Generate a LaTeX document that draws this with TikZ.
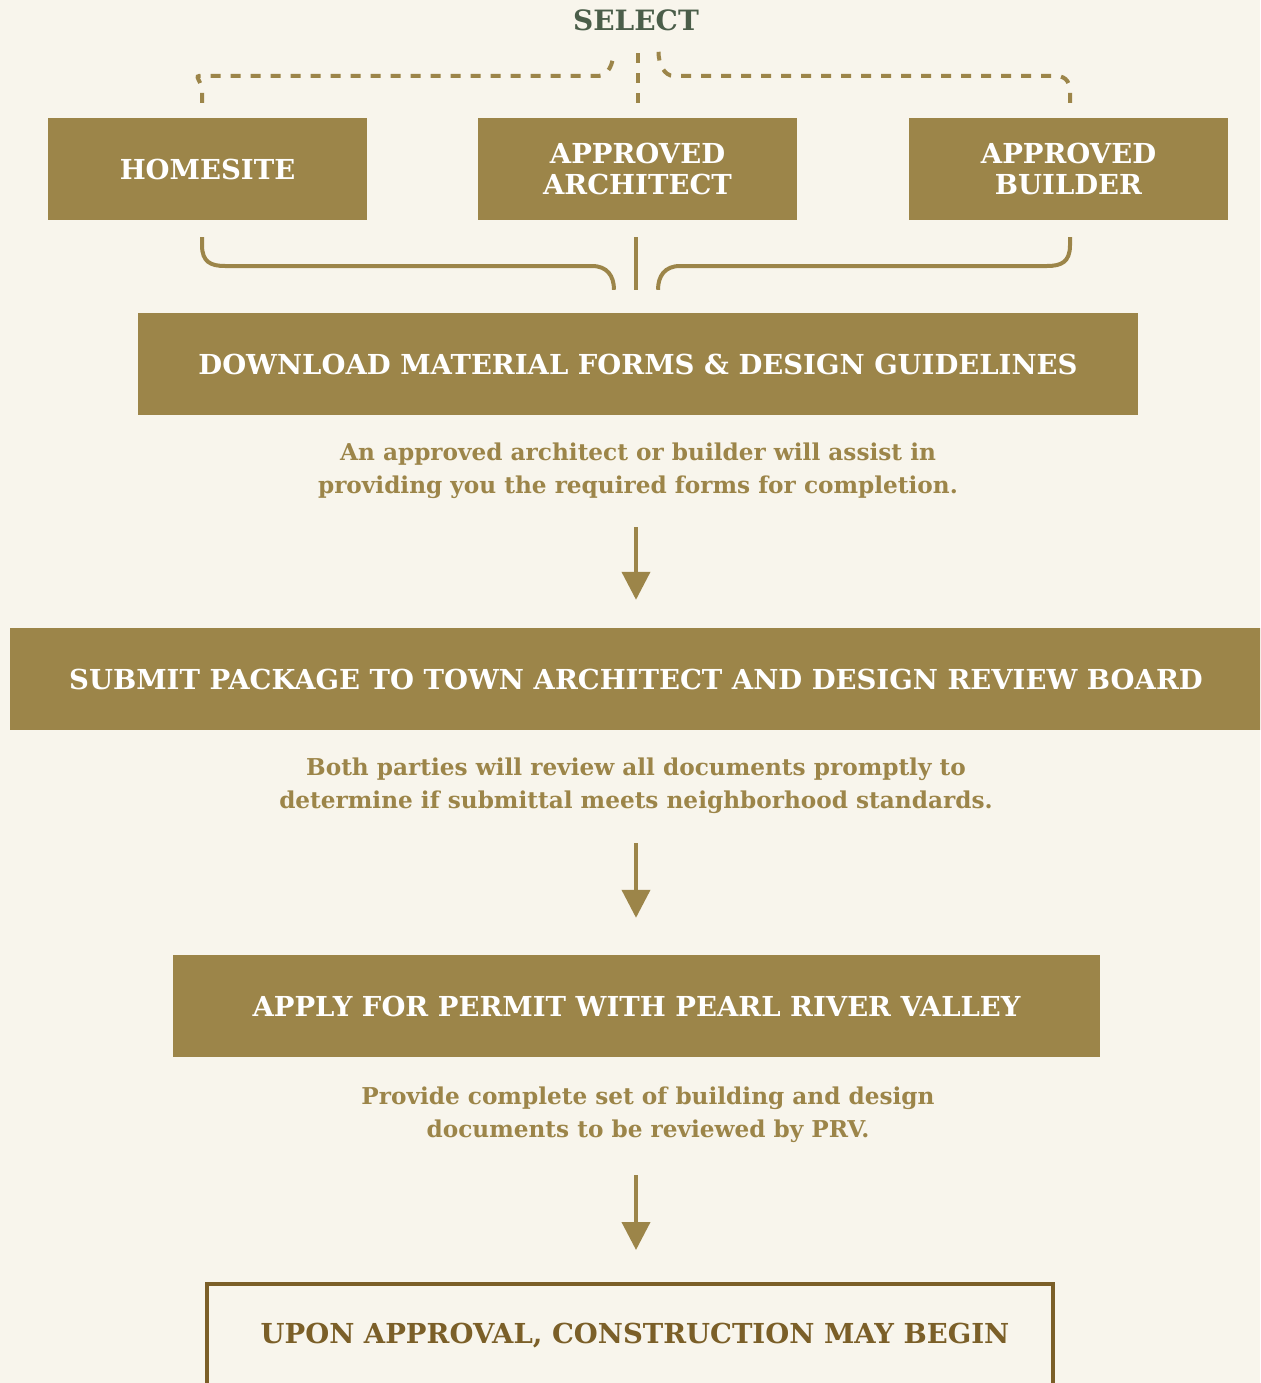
\documentclass[tikz,border=0pt]{standalone}
\usepackage{fontspec}
\setmainfont{DejaVu Serif}
\usetikzlibrary{arrows.meta}
\definecolor{cream}{HTML}{F8F5EC}
\definecolor{gold}{HTML}{9C8549}
\definecolor{sage}{HTML}{4B5E4A}
\definecolor{umber}{HTML}{7B5F28}
\begin{document}
\begin{tikzpicture}[x=1pt,y=-1pt,
	stepbox/.style={fill=gold,text=white,inner sep=0pt,minimum height=102pt,
		align=center,font=\bfseries\fontsize{27.5}{31}\selectfont},
	note/.style={text=gold,align=center,font=\bfseries\fontsize{23.2}{33}\selectfont},
	flow/.style={gold,line width=4pt,-{Triangle[width=28pt,length=28pt]}},
	bracket/.style={gold,line width=4pt},
	pick/.style={gold,line width=4pt,dash pattern=on 10pt off 10pt}]
\clip (0,0) rectangle (1260,1383);
\fill[cream] (0,0) rectangle (1260,1383);
\node[text=sage,font=\bfseries\fontsize{28}{30}\selectfont] (select) at (636,20) {SELECT};
\node[stepbox,minimum width=319pt] (homesite) at (207.5,169) {HOMESITE};
\node[stepbox,minimum width=319pt] (architect) at (637.5,169) {APPROVED\\ARCHITECT};
\node[stepbox,minimum width=319pt] (builder) at (1068.5,169) {APPROVED\\BUILDER};
\node[stepbox,minimum width=1000pt] (download) at (638,364) {DOWNLOAD MATERIAL FORMS \& DESIGN GUIDELINES};
\node[note] (note1) at (638,471) {An approved architect or builder will assist in\\providing you the required forms for completion.};
\node[stepbox,minimum width=1260pt] (submit) at (640,679) {\hspace*{-8pt}SUBMIT PACKAGE TO TOWN ARCHITECT AND DESIGN REVIEW BOARD};
\node[note] (note2) at (636,786) {Both parties will review all documents promptly to\\determine if submittal meets neighborhood standards.};
\node[stepbox,minimum width=927pt] (permit) at (636.5,1006) {APPLY FOR PERMIT WITH PEARL RIVER VALLEY};
\node[note] (note3) at (648,1115) {Provide complete set of building and design\\documents to be reviewed by PRV.};
\node[draw=umber,line width=4pt,text=umber,minimum width=846pt,minimum height=104pt,inner sep=0pt,
	font=\bfseries\fontsize{27.5}{30}\selectfont] (approval) at (630,1336) {\hspace*{10pt}UPON APPROVAL, CONSTRUCTION MAY BEGIN};
\draw[pick] ([xshift=-5.5pt,yshift=15pt]homesite.north) -- ++(0,-10)
	.. controls ++(0,-14) and ++(-10,0) .. ([xshift=-5.5pt,yshift=42pt]homesite.north) -- (598,76)
	.. controls ++(10,0) and ++(0,12) .. ([xshift=-24pt,yshift=66pt]architect.north);
\draw[pick] ([yshift=15pt]architect.north) -- ([yshift=66pt]architect.north);
\draw[pick] ([xshift=1.5pt,yshift=15pt]builder.north) -- ++(0,-10)
	.. controls ++(0,-14) and ++(10,0) .. ([xshift=-15pt,yshift=42pt]builder.north) -- (674,76)
	.. controls ++(-10,0) and ++(0,12) .. ([xshift=21pt,yshift=66pt]architect.north);
\draw[bracket] ([xshift=-5.5pt,yshift=-17pt]homesite.south) -- ++(0,8)
	.. controls ++(0,17) and ++(-14,0) .. (225,266) -- (592,266)
	.. controls ++(15,0) and ++(0,-14) .. ([xshift=-24pt,yshift=23pt]download.north);
\draw[bracket] ([xshift=-1.5pt,yshift=-17pt]architect.south) -- ([xshift=-2pt,yshift=23pt]download.north);
\draw[bracket] ([xshift=1.5pt,yshift=-17pt]builder.south) -- ++(0,8)
	.. controls ++(0,17) and ++(14,0) .. (1047,266) -- (680,266)
	.. controls ++(-15,0) and ++(0,-14) .. ([xshift=20pt,yshift=23pt]download.north);
\draw[flow] ([xshift=-2pt,yshift=-25pt]note1.south) -- ([xshift=-4pt,yshift=28pt]submit.north);
\draw[flow] ([yshift=-26pt]note2.south) -- ([xshift=-0.5pt,yshift=37pt]permit.north);
\draw[flow] ([xshift=-12pt,yshift=-29pt]note3.south) -- ([xshift=6pt,yshift=32pt]approval.north);
\end{tikzpicture}
\end{document}
